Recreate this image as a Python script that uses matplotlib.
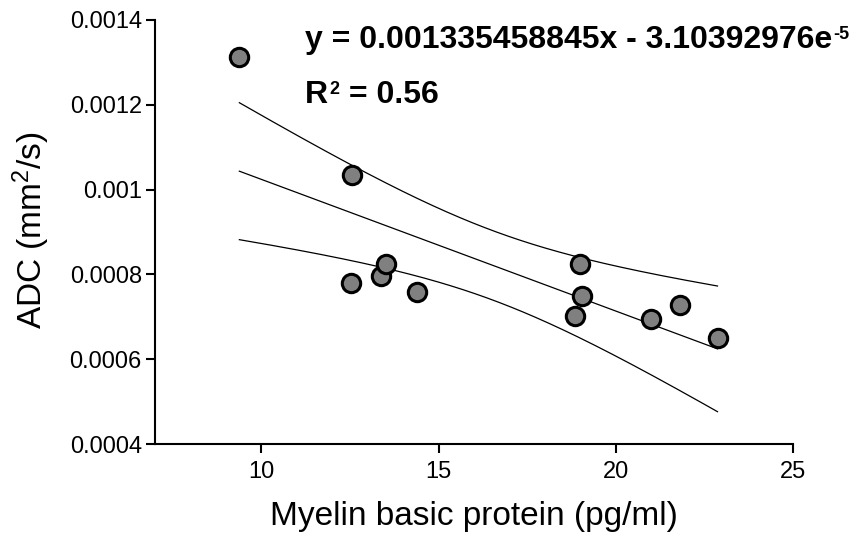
import numpy as np
import matplotlib
matplotlib.use("Agg")
import matplotlib.pyplot as plt

# data
mbp = [9.38, 12.57, 12.54, 13.38, 13.52, 14.40, 18.98, 19.05, 18.86, 20.98, 21.80, 22.87]
adc = [0.001313, 0.001034, 0.000780, 0.000796, 0.000825, 0.000759,
       0.000824, 0.000750, 0.000703, 0.000694, 0.000728, 0.000651]
xticks = [10, 15, 20, 25]
yticks = [0.0004, 0.0006, 0.0008, 0.0010, 0.0012, 0.0014]
ytick_labels = ["0.0004", "0.0006", "0.0008", "0.001", "0.0012", "0.0014"]
eq_text = "y = 0.001335458845x - 3.10392976e"
eq_exp = "-5"
r2_text = "R"
r2_exp = "2"
r2_val = " = 0.56"

plt.rcParams['font.family'] = ['Liberation Sans', 'DejaVu Sans']
plt.rcParams['mathtext.fontset'] = 'custom'
plt.rcParams['mathtext.rm'] = 'Liberation Sans'
plt.rcParams['mathtext.bf'] = 'Liberation Sans:bold'
plt.rcParams['mathtext.it'] = 'Liberation Sans:italic'

x = np.array(mbp)
y = np.array(adc)
n = len(x)
slope, intercept = np.polyfit(x, y, 1)
resid = y - (slope * x + intercept)
se = np.sqrt(np.sum(resid ** 2) / (n - 2))
xbar = x.mean()
sxx = np.sum((x - xbar) ** 2)
tval = 2.228  # t(0.975, df=10)
xs = np.linspace(x.min(), x.max(), 200)
yfit = slope * xs + intercept
half = tval * se * np.sqrt(1.0 / n + (xs - xbar) ** 2 / sxx)

W, H = 856, 537
fig = plt.figure(figsize=(W / 100, H / 100), dpi=100)
ax = fig.add_axes([155 / W, 1 - 444 / H, (793 - 155) / W, (444 - 20) / H])

ax.plot(xs, yfit, color='black', lw=0.9, zorder=2)
ax.plot(xs, yfit + half, color='black', lw=0.9, zorder=2)
ax.plot(xs, yfit - half, color='black', lw=0.9, zorder=2)
ax.scatter(x, y, s=175, facecolor='#808080', edgecolor='black', linewidths=2.2, zorder=3, clip_on=False)

ax.set_xlim(7, 25)
ax.set_ylim(0.0004, 0.0014)
ax.set_xticks(xticks)
ax.set_xticklabels([str(t) for t in xticks])
ax.set_yticks(yticks)
ax.set_yticklabels(ytick_labels)
ax.tick_params(direction='out', length=6.5, width=1.5, labelsize=17)
ax.tick_params(axis='y', pad=3)
ax.tick_params(axis='x', pad=6)
for s in ['top', 'right']:
    ax.spines[s].set_visible(False)
for s in ['left', 'bottom']:
    ax.spines[s].set_linewidth(1.5)

fig.text(474 / W, 1 - 525 / H, "Myelin basic protein (pg/ml)", fontsize=24,
         ha='center', va='baseline')
fig.text(31 / W, 1 - 230 / H, "ADC (mm$^2$/s)", fontsize=24, rotation=90,
         ha='center', va='center')

renderer = fig.canvas.get_renderer()

def sup_text(xp, base_y, main, sup, size, sup_size, rise):
    t = fig.text(xp / W, 1 - base_y / H, main, fontsize=size, fontweight='bold',
                 ha='left', va='baseline')
    bb = t.get_window_extent(renderer=renderer)
    fig.text(bb.x1 / W + 1 / W, 1 - (base_y - rise) / H, sup, fontsize=sup_size,
             fontweight='bold', ha='left', va='baseline')
    return bb.x1

sup_text(305, 48, eq_text, eq_exp, 23, 13, 9)
xe = sup_text(305, 103, r2_text, r2_exp, 23, 13, 9)
fig.text((xe + 12) / W, 1 - 103 / H, r2_val, fontsize=23, fontweight='bold',
         ha='left', va='baseline')

fig.savefig("out.png", dpi=100)
